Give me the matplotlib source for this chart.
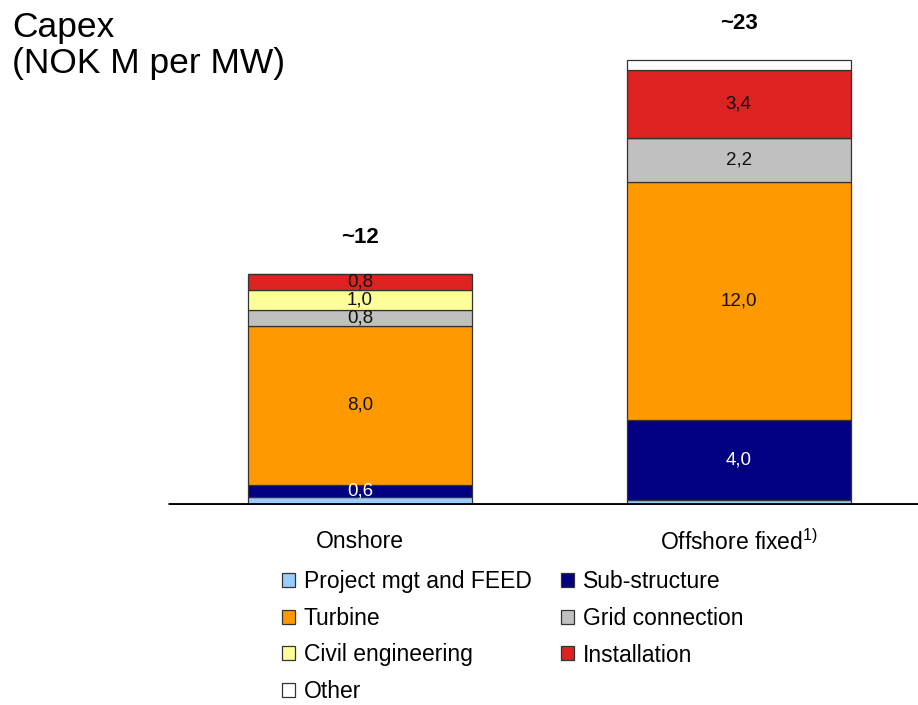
import matplotlib
matplotlib.use("Agg")
import matplotlib.pyplot as plt
from matplotlib.patches import Patch

plt.rcParams['font.family'] = ['Liberation Sans', 'DejaVu Sans']
plt.rcParams['mathtext.fontset'] = 'custom'
plt.rcParams['mathtext.rm'] = 'Liberation Sans'

categories = ["Onshore", "Offshore fixed"]
components = ["Project mgt and FEED", "Sub-structure", "Turbine", "Grid connection",
              "Civil engineering", "Installation", "Other"]
values = {
    "Project mgt and FEED": [0.4, 0.25],
    "Sub-structure":        [0.6, 4.0],
    "Turbine":              [8.0, 12.0],
    "Grid connection":      [0.8, 2.2],
    "Civil engineering":    [1.0, 0.0],
    "Installation":         [0.8, 3.4],
    "Other":                [0.0, 0.5],
}
# which segments carry a value label
shown = {
    "Project mgt and FEED": [False, False],
    "Sub-structure":        [True, True],
    "Turbine":              [True, True],
    "Grid connection":      [True, True],
    "Civil engineering":    [True, False],
    "Installation":         [True, True],
    "Other":                [False, False],
}
totals_text = ["~12", "~23"]
colors = {
    "Project mgt and FEED": "#99CCFF",
    "Sub-structure":        "#000080",
    "Turbine":              "#FF9900",
    "Grid connection":      "#C0C0C0",
    "Civil engineering":    "#FFFF99",
    "Installation":         "#DD2222",
    "Other":                "#FFFFFF",
}
text_colors = {"Sub-structure": "white"}

W, H = 918, 705
fig = plt.figure(figsize=(W/100, H/100), dpi=100)
ax = fig.add_axes([0, 200/H, 1, 497.5/H])
ax.set_xlim(-0.951, 1.474)
ax.set_ylim(0, 25)
ax.axis("off")

x = list(range(len(categories)))
bottoms = [0.0]*len(categories)
for comp in components:
    vals = values[comp]
    ax.bar(x, vals, width=0.592, bottom=bottoms, color=colors[comp],
           edgecolor="#333333", linewidth=0.9, zorder=2)
    for i, v in enumerate(vals):
        if shown[comp][i] and v > 0:
            ax.text(x[i], bottoms[i] + v/2, f"{v:.1f}".replace(".", ","),
                    ha="center", va="center", fontsize=13.5,
                    color=text_colors.get(comp, "#111111"), zorder=3)
    bottoms = [b + v for b, v in zip(bottoms, vals)]

for i, t in enumerate(totals_text):
    ax.text(x[i], bottoms[i] + 1.3, t, ha="center", va="bottom",
            fontsize=16, fontweight="bold")

ax.axhline(0, xmin=168/W, xmax=1, color="black", linewidth=3.5, zorder=4,
           solid_capstyle="butt")

cat_labels = ["Onshore", r"Offshore fixed$^{1)}$"]
for i, lab in enumerate(cat_labels):
    ax.text(x[i], -1.85, lab, ha="center", va="center", fontsize=16.5)

fig.text(12/W, 1 - 11/H, "Capex\n(NOK M per MW)", ha="left", va="top",
         fontsize=25.5, linespacing=1.12)

order = ["Project mgt and FEED", "Turbine", "Civil engineering", "Other",
         "Sub-structure", "Grid connection", "Installation"]
handles = [Patch(facecolor=colors[c], edgecolor="#333333", linewidth=0.9) for c in order]
leg = fig.legend(handles, order, ncol=2, loc="upper left",
                 bbox_to_anchor=(282/W, 1 - 570/H), frameon=False,
                 fontsize=16.5, handlelength=0.55, handleheight=0.55,
                 handletextpad=0.4, columnspacing=1.3, labelspacing=0.6,
                 borderpad=0, borderaxespad=0)

fig.savefig("out.png", dpi=100)
